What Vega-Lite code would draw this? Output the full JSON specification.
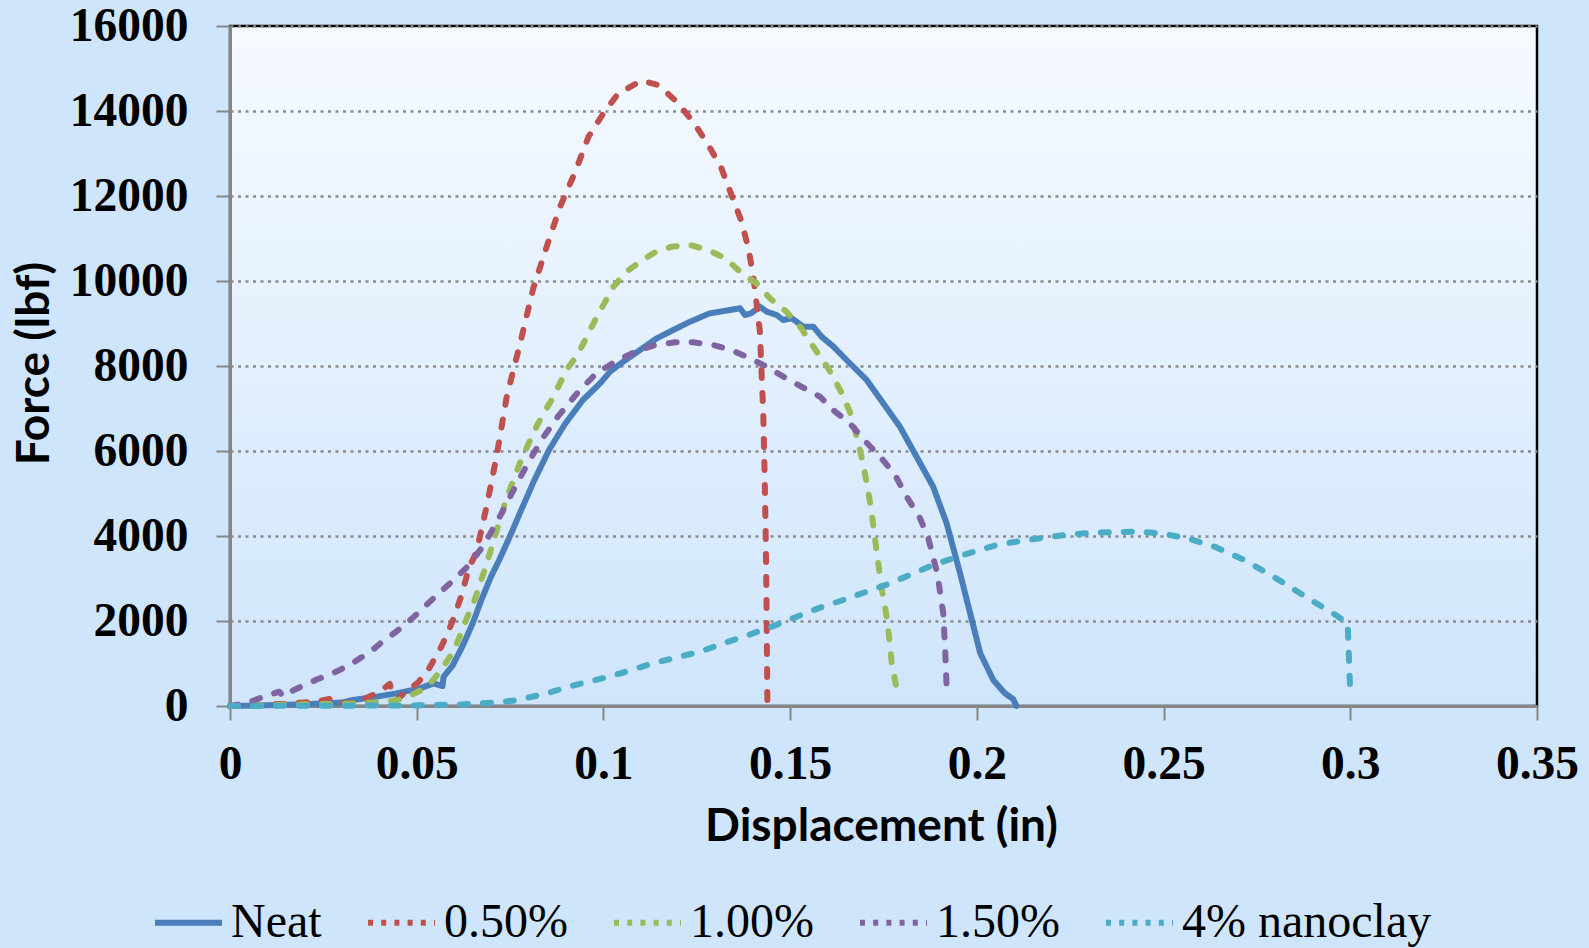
{
  "$schema": "https://vega.github.io/schema/vega-lite/v6.json",
  "width": 1307,
  "height": 680,
  "autosize": {"type": "none"},
  "padding": {"left": 230, "top": 26, "right": 52, "bottom": 242},
  "background": "#cfe5fc",
  "view": {
    "fill": {"gradient": "linear", "x1": 0, "y1": 0, "x2": 0, "y2": 1, "stops": [{"offset": 0, "color": "#f6faff"}, {"offset": 1, "color": "#cfe5fc"}]},
    "stroke": "#000000",
    "strokeWidth": 2.5
  },
  "datasets": {
    "curves": [
      {"s": "Neat", "x": 0, "y": 0}, {"s": "Neat", "x": 0.01, "y": 20}, {"s": "Neat", "x": 0.02, "y": 40}, {"s": "Neat", "x": 0.03, "y": 80},
      {"s": "Neat", "x": 0.033, "y": 141}, {"s": "Neat", "x": 0.0393, "y": 220}, {"s": "Neat", "x": 0.0446, "y": 298}, {"s": "Neat", "x": 0.0509, "y": 416},
      {"s": "Neat", "x": 0.0545, "y": 533}, {"s": "Neat", "x": 0.0569, "y": 470}, {"s": "Neat", "x": 0.0572, "y": 690}, {"s": "Neat", "x": 0.0596, "y": 950},
      {"s": "Neat", "x": 0.0622, "y": 1396}, {"s": "Neat", "x": 0.065, "y": 1945}, {"s": "Neat", "x": 0.0673, "y": 2494}, {"s": "Neat", "x": 0.0699, "y": 3043},
      {"s": "Neat", "x": 0.0721, "y": 3435}, {"s": "Neat", "x": 0.075, "y": 4000}, {"s": "Neat", "x": 0.078, "y": 4615}, {"s": "Neat", "x": 0.0815, "y": 5315},
      {"s": "Neat", "x": 0.0855, "y": 6035}, {"s": "Neat", "x": 0.0897, "y": 6635}, {"s": "Neat", "x": 0.0945, "y": 7200}, {"s": "Neat", "x": 0.0991, "y": 7592},
      {"s": "Neat", "x": 0.1018, "y": 7867}, {"s": "Neat", "x": 0.1053, "y": 8102}, {"s": "Neat", "x": 0.1098, "y": 8376}, {"s": "Neat", "x": 0.1143, "y": 8651},
      {"s": "Neat", "x": 0.1187, "y": 8847}, {"s": "Neat", "x": 0.1232, "y": 9043}, {"s": "Neat", "x": 0.1285, "y": 9239}, {"s": "Neat", "x": 0.1339, "y": 9318},
      {"s": "Neat", "x": 0.1366, "y": 9357}, {"s": "Neat", "x": 0.1379, "y": 9200}, {"s": "Neat", "x": 0.1395, "y": 9239}, {"s": "Neat", "x": 0.1419, "y": 9396},
      {"s": "Neat", "x": 0.1437, "y": 9278}, {"s": "Neat", "x": 0.1464, "y": 9200}, {"s": "Neat", "x": 0.1481, "y": 9082}, {"s": "Neat", "x": 0.1505, "y": 9122},
      {"s": "Neat", "x": 0.1535, "y": 8925}, {"s": "Neat", "x": 0.1562, "y": 8925}, {"s": "Neat", "x": 0.1584, "y": 8690}, {"s": "Neat", "x": 0.1616, "y": 8455},
      {"s": "Neat", "x": 0.1651, "y": 8141}, {"s": "Neat", "x": 0.1705, "y": 7671}, {"s": "Neat", "x": 0.1794, "y": 6572}, {"s": "Neat", "x": 0.1883, "y": 5160},
      {"s": "Neat", "x": 0.1919, "y": 4299}, {"s": "Neat", "x": 0.1955, "y": 3122}, {"s": "Neat", "x": 0.1982, "y": 2181}, {"s": "Neat", "x": 0.2009, "y": 1240},
      {"s": "Neat", "x": 0.2044, "y": 612}, {"s": "Neat", "x": 0.2075, "y": 300}, {"s": "Neat", "x": 0.2097, "y": 165}, {"s": "Neat", "x": 0.2106, "y": 0},

      {"s": "0.50%", "x": 0, "y": 0}, {"s": "0.50%", "x": 0.004, "y": 10}, {"s": "0.50%", "x": 0.0079, "y": 16}, {"s": "0.50%", "x": 0.0116, "y": 47},
      {"s": "0.50%", "x": 0.0152, "y": 47}, {"s": "0.50%", "x": 0.0189, "y": 78}, {"s": "0.50%", "x": 0.0228, "y": 102}, {"s": "0.50%", "x": 0.0266, "y": 165},
      {"s": "0.50%", "x": 0.029, "y": 47}, {"s": "0.50%", "x": 0.0326, "y": 78}, {"s": "0.50%", "x": 0.0363, "y": 180}, {"s": "0.50%", "x": 0.0397, "y": 314},
      {"s": "0.50%", "x": 0.0428, "y": 518}, {"s": "0.50%", "x": 0.0434, "y": 298}, {"s": "0.50%", "x": 0.0446, "y": 141}, {"s": "0.50%", "x": 0.0474, "y": 353},
      {"s": "0.50%", "x": 0.0504, "y": 557}, {"s": "0.50%", "x": 0.0528, "y": 808}, {"s": "0.50%", "x": 0.0547, "y": 1098}, {"s": "0.50%", "x": 0.0565, "y": 1380},
      {"s": "0.50%", "x": 0.0582, "y": 1694}, {"s": "0.50%", "x": 0.0596, "y": 2000}, {"s": "0.50%", "x": 0.0609, "y": 2322}, {"s": "0.50%", "x": 0.0621, "y": 2635},
      {"s": "0.50%", "x": 0.0631, "y": 2965}, {"s": "0.50%", "x": 0.0641, "y": 3278}, {"s": "0.50%", "x": 0.066, "y": 3616}, {"s": "0.50%", "x": 0.0687, "y": 4690},
      {"s": "0.50%", "x": 0.0714, "y": 5882}, {"s": "0.50%", "x": 0.0741, "y": 7278}, {"s": "0.50%", "x": 0.0777, "y": 8533}, {"s": "0.50%", "x": 0.0812, "y": 9827},
      {"s": "0.50%", "x": 0.0848, "y": 10807}, {"s": "0.50%", "x": 0.0884, "y": 11749}, {"s": "0.50%", "x": 0.0915, "y": 12376}, {"s": "0.50%", "x": 0.0933, "y": 12768},
      {"s": "0.50%", "x": 0.096, "y": 13395}, {"s": "0.50%", "x": 0.1, "y": 13945}, {"s": "0.50%", "x": 0.104, "y": 14416}, {"s": "0.50%", "x": 0.1089, "y": 14651},
      {"s": "0.50%", "x": 0.1102, "y": 14713}, {"s": "0.50%", "x": 0.1147, "y": 14612}, {"s": "0.50%", "x": 0.1196, "y": 14220}, {"s": "0.50%", "x": 0.124, "y": 13749},
      {"s": "0.50%", "x": 0.1281, "y": 13200}, {"s": "0.50%", "x": 0.1316, "y": 12651}, {"s": "0.50%", "x": 0.1343, "y": 12024}, {"s": "0.50%", "x": 0.137, "y": 11396},
      {"s": "0.50%", "x": 0.1388, "y": 10769}, {"s": "0.50%", "x": 0.1401, "y": 10141}, {"s": "0.50%", "x": 0.141, "y": 9475}, {"s": "0.50%", "x": 0.1419, "y": 8808},
      {"s": "0.50%", "x": 0.1428, "y": 6886}, {"s": "0.50%", "x": 0.1432, "y": 5318}, {"s": "0.50%", "x": 0.1435, "y": 3749}, {"s": "0.50%", "x": 0.1437, "y": 2181},
      {"s": "0.50%", "x": 0.1439, "y": 141}, {"s": "0.50%", "x": 0.144, "y": 0},

      {"s": "1.00%", "x": 0, "y": 0}, {"s": "1.00%", "x": 0.01, "y": 20}, {"s": "1.00%", "x": 0.02, "y": 40}, {"s": "1.00%", "x": 0.03, "y": 50},
      {"s": "1.00%", "x": 0.0382, "y": 78}, {"s": "1.00%", "x": 0.0415, "y": 102}, {"s": "1.00%", "x": 0.0449, "y": 141}, {"s": "1.00%", "x": 0.0482, "y": 243},
      {"s": "1.00%", "x": 0.0513, "y": 376}, {"s": "1.00%", "x": 0.054, "y": 572}, {"s": "1.00%", "x": 0.0562, "y": 808}, {"s": "1.00%", "x": 0.0582, "y": 1067},
      {"s": "1.00%", "x": 0.06, "y": 1318}, {"s": "1.00%", "x": 0.0613, "y": 1592}, {"s": "1.00%", "x": 0.0625, "y": 1875}, {"s": "1.00%", "x": 0.0639, "y": 2165},
      {"s": "1.00%", "x": 0.0653, "y": 2440}, {"s": "1.00%", "x": 0.0664, "y": 2729}, {"s": "1.00%", "x": 0.0675, "y": 3027}, {"s": "1.00%", "x": 0.0686, "y": 3310},
      {"s": "1.00%", "x": 0.0714, "y": 4122}, {"s": "1.00%", "x": 0.0741, "y": 4905}, {"s": "1.00%", "x": 0.078, "y": 5800}, {"s": "1.00%", "x": 0.0822, "y": 6600},
      {"s": "1.00%", "x": 0.0866, "y": 7278}, {"s": "1.00%", "x": 0.0901, "y": 7906}, {"s": "1.00%", "x": 0.0933, "y": 8298}, {"s": "1.00%", "x": 0.0964, "y": 8847},
      {"s": "1.00%", "x": 0.0995, "y": 9357}, {"s": "1.00%", "x": 0.1027, "y": 9867}, {"s": "1.00%", "x": 0.1062, "y": 10220}, {"s": "1.00%", "x": 0.1098, "y": 10455},
      {"s": "1.00%", "x": 0.1138, "y": 10674}, {"s": "1.00%", "x": 0.1183, "y": 10807}, {"s": "1.00%", "x": 0.1232, "y": 10847}, {"s": "1.00%", "x": 0.1281, "y": 10729},
      {"s": "1.00%", "x": 0.1326, "y": 10533}, {"s": "1.00%", "x": 0.1366, "y": 10220}, {"s": "1.00%", "x": 0.141, "y": 9945}, {"s": "1.00%", "x": 0.1446, "y": 9592},
      {"s": "1.00%", "x": 0.149, "y": 9278}, {"s": "1.00%", "x": 0.153, "y": 8886}, {"s": "1.00%", "x": 0.1562, "y": 8455}, {"s": "1.00%", "x": 0.1602, "y": 7945},
      {"s": "1.00%", "x": 0.1634, "y": 7435}, {"s": "1.00%", "x": 0.166, "y": 6925}, {"s": "1.00%", "x": 0.1678, "y": 6337}, {"s": "1.00%", "x": 0.1694, "y": 5749},
      {"s": "1.00%", "x": 0.1707, "y": 5160}, {"s": "1.00%", "x": 0.1718, "y": 4572}, {"s": "1.00%", "x": 0.1727, "y": 3945}, {"s": "1.00%", "x": 0.1736, "y": 3357},
      {"s": "1.00%", "x": 0.1745, "y": 2769}, {"s": "1.00%", "x": 0.1757, "y": 2181}, {"s": "1.00%", "x": 0.1766, "y": 1553}, {"s": "1.00%", "x": 0.1772, "y": 1004},
      {"s": "1.00%", "x": 0.1785, "y": 416}, {"s": "1.00%", "x": 0.1791, "y": 250},

      {"s": "1.50%", "x": 0, "y": 0}, {"s": "1.50%", "x": 0.0031, "y": 47}, {"s": "1.50%", "x": 0.0067, "y": 141}, {"s": "1.50%", "x": 0.0098, "y": 243},
      {"s": "1.50%", "x": 0.0132, "y": 337}, {"s": "1.50%", "x": 0.0143, "y": 220}, {"s": "1.50%", "x": 0.0171, "y": 376}, {"s": "1.50%", "x": 0.0204, "y": 510},
      {"s": "1.50%", "x": 0.0235, "y": 635}, {"s": "1.50%", "x": 0.0266, "y": 729}, {"s": "1.50%", "x": 0.0297, "y": 863}, {"s": "1.50%", "x": 0.0328, "y": 1004},
      {"s": "1.50%", "x": 0.0357, "y": 1176}, {"s": "1.50%", "x": 0.0386, "y": 1349}, {"s": "1.50%", "x": 0.0411, "y": 1537}, {"s": "1.50%", "x": 0.0439, "y": 1710},
      {"s": "1.50%", "x": 0.0466, "y": 1898}, {"s": "1.50%", "x": 0.0493, "y": 2102}, {"s": "1.50%", "x": 0.0516, "y": 2298}, {"s": "1.50%", "x": 0.0542, "y": 2510},
      {"s": "1.50%", "x": 0.0567, "y": 2714}, {"s": "1.50%", "x": 0.0592, "y": 2910}, {"s": "1.50%", "x": 0.0616, "y": 3106}, {"s": "1.50%", "x": 0.0641, "y": 3325},
      {"s": "1.50%", "x": 0.068, "y": 3793}, {"s": "1.50%", "x": 0.072, "y": 4413}, {"s": "1.50%", "x": 0.076, "y": 5093}, {"s": "1.50%", "x": 0.08, "y": 5753},
      {"s": "1.50%", "x": 0.084, "y": 6333}, {"s": "1.50%", "x": 0.088, "y": 6833}, {"s": "1.50%", "x": 0.0933, "y": 7396}, {"s": "1.50%", "x": 0.0981, "y": 7827},
      {"s": "1.50%", "x": 0.1031, "y": 8102}, {"s": "1.50%", "x": 0.1085, "y": 8337}, {"s": "1.50%", "x": 0.1138, "y": 8494}, {"s": "1.50%", "x": 0.1192, "y": 8557},
      {"s": "1.50%", "x": 0.1241, "y": 8557}, {"s": "1.50%", "x": 0.1294, "y": 8494}, {"s": "1.50%", "x": 0.1343, "y": 8376}, {"s": "1.50%", "x": 0.1393, "y": 8180},
      {"s": "1.50%", "x": 0.1437, "y": 7984}, {"s": "1.50%", "x": 0.1482, "y": 7749}, {"s": "1.50%", "x": 0.153, "y": 7514}, {"s": "1.50%", "x": 0.158, "y": 7278},
      {"s": "1.50%", "x": 0.1615, "y": 6965}, {"s": "1.50%", "x": 0.166, "y": 6651}, {"s": "1.50%", "x": 0.1702, "y": 6220}, {"s": "1.50%", "x": 0.1741, "y": 5867},
      {"s": "1.50%", "x": 0.1781, "y": 5435}, {"s": "1.50%", "x": 0.1812, "y": 4925}, {"s": "1.50%", "x": 0.1848, "y": 4416}, {"s": "1.50%", "x": 0.187, "y": 3945},
      {"s": "1.50%", "x": 0.1894, "y": 3122}, {"s": "1.50%", "x": 0.191, "y": 2181}, {"s": "1.50%", "x": 0.1915, "y": 1357}, {"s": "1.50%", "x": 0.1919, "y": 455},
      {"s": "1.50%", "x": 0.192, "y": 250},

      {"s": "4% nanoclay", "x": 0, "y": 0}, {"s": "4% nanoclay", "x": 0.02, "y": 5}, {"s": "4% nanoclay", "x": 0.04, "y": 10}, {"s": "4% nanoclay", "x": 0.05, "y": 15},
      {"s": "4% nanoclay", "x": 0.0625, "y": 40}, {"s": "4% nanoclay", "x": 0.0659, "y": 55}, {"s": "4% nanoclay", "x": 0.0692, "y": 71}, {"s": "4% nanoclay", "x": 0.0727, "y": 94},
      {"s": "4% nanoclay", "x": 0.0763, "y": 133}, {"s": "4% nanoclay", "x": 0.08, "y": 200}, {"s": "4% nanoclay", "x": 0.085, "y": 300}, {"s": "4% nanoclay", "x": 0.0903, "y": 447},
      {"s": "4% nanoclay", "x": 0.0955, "y": 560}, {"s": "4% nanoclay", "x": 0.1012, "y": 682}, {"s": "4% nanoclay", "x": 0.107, "y": 830}, {"s": "4% nanoclay", "x": 0.113, "y": 1000},
      {"s": "4% nanoclay", "x": 0.1195, "y": 1140}, {"s": "4% nanoclay", "x": 0.1259, "y": 1278}, {"s": "4% nanoclay", "x": 0.1321, "y": 1475}, {"s": "4% nanoclay", "x": 0.1388, "y": 1671},
      {"s": "4% nanoclay", "x": 0.1451, "y": 1867}, {"s": "4% nanoclay", "x": 0.1518, "y": 2102}, {"s": "4% nanoclay", "x": 0.1575, "y": 2298}, {"s": "4% nanoclay", "x": 0.1642, "y": 2494},
      {"s": "4% nanoclay", "x": 0.1705, "y": 2690}, {"s": "4% nanoclay", "x": 0.1768, "y": 2886}, {"s": "4% nanoclay", "x": 0.183, "y": 3122}, {"s": "4% nanoclay", "x": 0.1883, "y": 3318},
      {"s": "4% nanoclay", "x": 0.1963, "y": 3553}, {"s": "4% nanoclay", "x": 0.2053, "y": 3788}, {"s": "4% nanoclay", "x": 0.2097, "y": 3855}, {"s": "4% nanoclay", "x": 0.217, "y": 3950},
      {"s": "4% nanoclay", "x": 0.2234, "y": 4024}, {"s": "4% nanoclay", "x": 0.23, "y": 4070}, {"s": "4% nanoclay", "x": 0.2369, "y": 4094}, {"s": "4% nanoclay", "x": 0.244, "y": 4100},
      {"s": "4% nanoclay", "x": 0.2505, "y": 4047}, {"s": "4% nanoclay", "x": 0.257, "y": 3930}, {"s": "4% nanoclay", "x": 0.264, "y": 3736}, {"s": "4% nanoclay", "x": 0.271, "y": 3460},
      {"s": "4% nanoclay", "x": 0.2776, "y": 3139}, {"s": "4% nanoclay", "x": 0.283, "y": 2850}, {"s": "4% nanoclay", "x": 0.2885, "y": 2544}, {"s": "4% nanoclay", "x": 0.2953, "y": 2186},
      {"s": "4% nanoclay", "x": 0.2993, "y": 1948}, {"s": "4% nanoclay", "x": 0.2999, "y": 517}
    ]
  },
  "data": {"name": "curves"},
  "encoding": {
    "x": {
      "field": "x", "type": "quantitative",
      "scale": {"domain": [0, 0.35], "nice": false, "zero": false},
      "axis": {
        "values": [0, 0.05, 0.1, 0.15, 0.2, 0.25, 0.3, 0.35],
        "format": "~g",
        "labelFont": "Liberation Serif", "labelFontWeight": "bold", "labelFontSize": 47.5, "labelColor": "#000000",
        "labelPadding": 20, "labelFlush": false, "labelOverlap": false,
        "tickSize": 14, "tickColor": "#868686", "tickWidth": 2,
        "domainColor": "#868686", "domainWidth": 3,
        "grid": false,
        "title": "Displacement (in)",
        "titleFont": "Lato", "titleFontWeight": "bold", "titleFontSize": 46, "titleColor": "#000000",
        "titleX": 651, "titleY": 134, "titleBaseline": "alphabetic", "titleAlign": "center"
      }
    },
    "y": {
      "field": "y", "type": "quantitative",
      "scale": {"domain": [0, 16000], "nice": false},
      "axis": {
        "values": [0, 2000, 4000, 6000, 8000, 10000, 12000, 14000, 16000],
        "format": "d",
        "labelFont": "Liberation Serif", "labelFontWeight": "bold", "labelFontSize": 47.5, "labelColor": "#000000",
        "labelPadding": 28, "labelFlush": false, "labelOverlap": false,
        "tickSize": 14, "tickColor": "#868686", "tickWidth": 2,
        "domainColor": "#868686", "domainWidth": 3,
        "grid": true, "gridColor": "#8a8a8a", "gridDash": [3, 4.5], "gridWidth": 2.5,
        "title": "Force (lbf)",
        "titleFont": "Lato", "titleFontWeight": "bold", "titleFontSize": 46, "titleColor": "#000000",
        "titleX": -182, "titleY": 337, "titleAngle": 270, "titleBaseline": "alphabetic", "titleAlign": "center"
      }
    },
    "color": {
      "field": "s", "type": "nominal",
      "scale": {"domain": ["Neat", "0.50%", "1.00%", "1.50%", "4% nanoclay"], "range": ["#4a7ebb", "#c0504d", "#9bbb59", "#8064a2", "#4bacc6"]},
      "legend": {
        "orient": "none", "legendX": -78, "legendY": 860, "direction": "horizontal", "columns": 5,
        "title": null, "padding": 0,
        "labelFont": "Liberation Serif", "labelFontSize": 48, "labelColor": "#000000", "labelLimit": 400,
        "labelOffset": 6, "columnPadding": 34,
        "symbolType": "stroke", "symbolSize": 4489, "symbolStrokeWidth": 6,
        "symbolDash": {"expr": "datum.label === 'Neat' ? [1, 0] : [5, 8.2]"}
      }
    }
  },
  "layer": [
    {
      "transform": [{"filter": "datum.s === 'Neat'"}],
      "mark": {"type": "line", "strokeWidth": 6, "strokeCap": "round", "strokeJoin": "round"}
    },
    {
      "transform": [{"filter": "datum.s !== 'Neat'"}],
      "mark": {"type": "line", "strokeWidth": 6, "strokeCap": "round", "strokeJoin": "round", "strokeDash": [8, 15]}
    }
  ]
}
